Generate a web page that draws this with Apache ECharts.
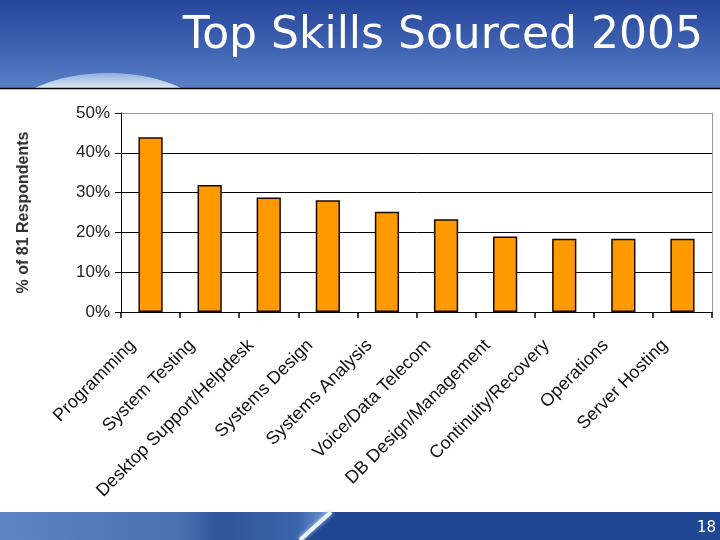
<!DOCTYPE html>
<html>
<head>
<meta charset="utf-8">
<script src="https://cdn.jsdelivr.net/npm/echarts@6/dist/echarts.min.js"></script>
<style>
html,body{margin:0;padding:0;background:#fff;}
#main{width:720px;height:540px;}
</style>
</head>
<body>
<div id="main"></div>
<script>
var categories = ['Programming','System Testing','Desktop Support/Helpdesk','Systems Design','Systems Analysis','Voice/Data Telecom','DB Design/Management','Continuity/Recovery','Operations','Server Hosting'];
var values = [43.9, 31.9, 28.8, 28.1, 25.2, 23.3, 19.0, 18.4, 18.4, 18.4];
var yTicks = [0, 10, 20, 30, 40, 50];
var titleText = 'Top Skills Sourced 2005';
var yAxisName = '% of 81 Respondents';
var pageNumber = '18';

var chart = echarts.init(document.getElementById('main'));
chart.setOption({
  animation: false,
  backgroundColor: '#ffffff',
  title: {
    text: titleText,
    right: 12,
    top: 10,
    textStyle: {fontFamily: 'DejaVu Sans', fontSize: 44, fontWeight: 'normal', color: '#ffffff'}
  },
  graphic: [
    {type: 'rect', z: -10, shape: {x: 0, y: 0, width: 720, height: 89},
     style: {fill: new echarts.graphic.LinearGradient(0, 0, 0, 1, [
       {offset: 0, color: '#27469a'}, {offset: 0.5, color: '#3d61b0'}, {offset: 1, color: '#5a80c8'}])}},
    {type: 'ellipse', z: -9, shape: {cx: 108, cy: 135, rx: 112, ry: 62},
     style: {fill: new echarts.graphic.LinearGradient(0, 0, 0, 1, [
       {offset: 0, color: '#8fb0dc'}, {offset: 0.12, color: '#dfe8f4'}, {offset: 0.3, color: '#ffffff'}, {offset: 1, color: '#ffffff'}])}},
    {type: 'rect', z: -8, shape: {x: 0, y: 89, width: 720, height: 423}, style: {fill: '#ffffff'}},
    {type: 'line', z: -7, shape: {x1: 0, y1: 88.5, x2: 720, y2: 88.5}, style: {stroke: '#000000', lineWidth: 1.5}},
    {type: 'rect', z: -8, shape: {x: 0, y: 512, width: 720, height: 28}, style: {fill: '#1f4792'}},
    {type: 'polygon', z: -7, shape: {points: [[0, 512], [330, 512], [300, 540], [0, 540]]},
     style: {fill: new echarts.graphic.LinearGradient(0, 0, 1, 0, [
       {offset: 0, color: '#5d84c4'}, {offset: 0.55, color: '#4a70b2'}, {offset: 0.66, color: '#2f5598'},
       {offset: 0.9, color: '#3a63aa'}, {offset: 1, color: '#6f95cf'}])}},
    {type: 'line', z: -6, shape: {x1: 331, y1: 512, x2: 300, y2: 540},
     style: {stroke: '#eef4fb', lineWidth: 4, shadowBlur: 4, shadowColor: '#b8d0ee'}},
    {type: 'text', z: -5, style: {text: pageNumber, x: 716, y: 528, align: 'right', verticalAlign: 'middle',
      fill: '#ffffff', font: '15px "DejaVu Sans"'}}
  ],
  grid: {left: 121, right: 8, top: 113, bottom: 228},
  xAxis: {
    type: 'category',
    data: categories,
    axisLine: {lineStyle: {color: '#000', width: 1}},
    axisTick: {show: true, length: 6, lineStyle: {color: '#000', width: 1.5}},
    axisLabel: {rotate: 45, interval: 0, margin: 13, padding: [0, 25, 0, 0], color: '#111',
      fontFamily: 'Liberation Sans', fontSize: 18}
  },
  yAxis: [{
    type: 'value',
    min: 0, max: 50, interval: 10,
    name: yAxisName,
    nameLocation: 'middle',
    nameGap: 89,
    nameTextStyle: {fontFamily: 'Liberation Sans', fontSize: 16, fontWeight: 'bold', color: '#333'},
    axisLine: {show: true, lineStyle: {color: '#000', width: 1}},
    axisTick: {show: true, length: 6, lineStyle: {color: '#000'}},
    axisLabel: {formatter: '{value}%', margin: 11, color: '#222', fontFamily: 'Liberation Sans', fontSize: 17},
    splitLine: {show: true, lineStyle: {color: ['#000', '#000', '#000', '#000', '#000', '#999'], width: 1}}
  }, {
    type: 'value', position: 'right', min: 0, max: 50, interval: 10,
    axisLine: {show: true, lineStyle: {color: '#999'}},
    axisTick: {show: false}, axisLabel: {show: false}, splitLine: {show: false}
  }],
  series: [{
    type: 'bar',
    data: values,
    barWidth: '41%',
    itemStyle: {color: '#ff9900', borderColor: '#1a0800', borderWidth: 1.5}
  }]
});
</script>
</body>
</html>
